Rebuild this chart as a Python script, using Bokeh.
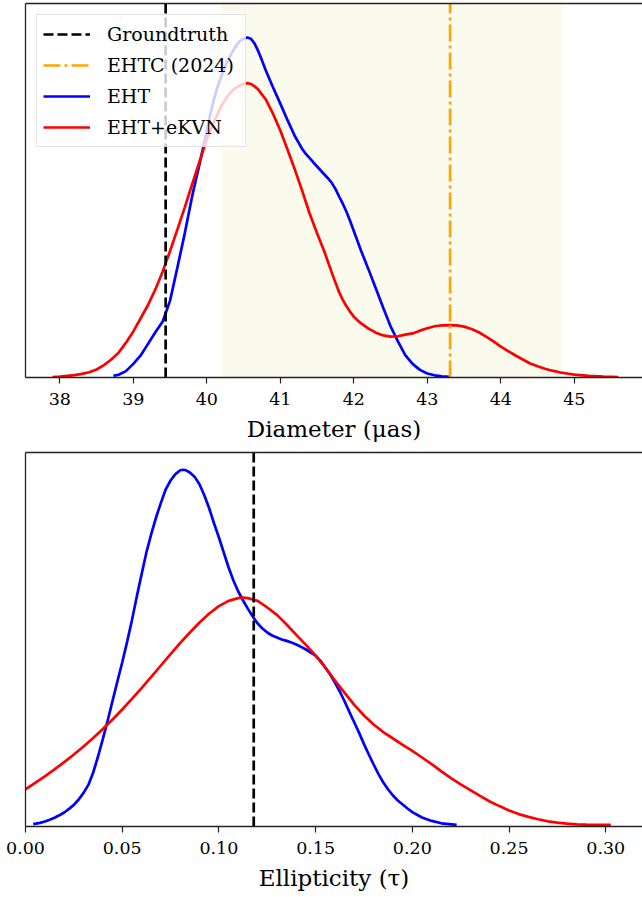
from bokeh.plotting import figure
from bokeh.models import (Range1d, FixedTicker, LinearAxis, BoxAnnotation, Legend,
                          LegendItem, PrintfTickFormatter)
from bokeh.layouts import column
from bokeh.embed import file_html
from bokeh.resources import INLINE

# ---------------- data ----------------
diam_eht_x = [38.73, 38.8, 38.9, 39.0, 39.1, 39.2, 39.3, 39.4, 39.5, 39.6, 39.7, 39.8, 39.85,
              39.9, 39.95, 40.0, 40.05, 40.1, 40.15, 40.2, 40.25, 40.3, 40.35, 40.4, 40.45,
              40.5, 40.55, 40.6, 40.65, 40.7, 40.75, 40.8, 40.9, 41.0, 41.1, 41.2, 41.3,
              41.35, 41.4, 41.45, 41.5, 41.55, 41.6, 41.65, 41.7, 41.75, 41.8, 41.85, 41.9,
              41.95, 42.0, 42.1, 42.2, 42.3, 42.4, 42.5, 42.6, 42.7, 42.8, 42.9, 43.0, 43.1,
              43.2, 43.31]
diam_eht_y = [0.004, 0.007, 0.016, 0.034, 0.055, 0.084, 0.113, 0.140, 0.192, 0.275, 0.360,
              0.452, 0.493, 0.532, 0.574, 0.617, 0.660, 0.697, 0.728, 0.754, 0.777, 0.797,
              0.814, 0.829, 0.840, 0.846, 0.849, 0.846, 0.834, 0.815, 0.792, 0.768, 0.725,
              0.684, 0.642, 0.602, 0.570, 0.558, 0.548, 0.537, 0.527, 0.517, 0.507, 0.497,
              0.486, 0.471, 0.452, 0.434, 0.414, 0.391, 0.366, 0.316, 0.270, 0.222, 0.174,
              0.128, 0.090, 0.056, 0.034, 0.019, 0.010, 0.0055, 0.003, 0.0015]

diam_kvn_x = [37.9, 38.0, 38.1, 38.2, 38.3, 38.4, 38.5, 38.6, 38.7, 38.8, 38.9, 39.0, 39.1,
              39.2, 39.3, 39.4, 39.5, 39.6, 39.7, 39.8, 39.9, 40.0, 40.1, 40.2, 40.3, 40.35,
              40.4, 40.45, 40.5, 40.55, 40.6, 40.65, 40.7, 40.8, 40.9, 41.0, 41.1, 41.2, 41.3,
              41.4, 41.5, 41.6, 41.7, 41.75, 41.8, 41.85, 41.9, 41.95, 42.0, 42.05, 42.1,
              42.2, 42.3, 42.4, 42.5, 42.6, 42.7, 42.8, 42.9, 43.0, 43.1, 43.2, 43.3, 43.4,
              43.5, 43.6, 43.7, 43.8, 43.9, 44.0, 44.1, 44.2, 44.3, 44.4, 44.5, 44.6, 44.7,
              44.8, 44.9, 45.0, 45.2, 45.4, 45.6]
diam_kvn_y = [0.001, 0.002, 0.004, 0.006, 0.009, 0.013, 0.020, 0.031, 0.045, 0.062, 0.087,
              0.115, 0.148, 0.181, 0.220, 0.265, 0.316, 0.370, 0.425, 0.482, 0.539, 0.594,
              0.640, 0.679, 0.707, 0.717, 0.724, 0.729, 0.733, 0.735, 0.733, 0.727, 0.719,
              0.695, 0.659, 0.617, 0.568, 0.518, 0.465, 0.409, 0.360, 0.314, 0.262, 0.237,
              0.213, 0.194, 0.178, 0.164, 0.152, 0.143, 0.135, 0.122, 0.112, 0.105, 0.102,
              0.103, 0.107, 0.110, 0.117, 0.123, 0.128, 0.130, 0.131, 0.130, 0.127, 0.121,
              0.113, 0.102, 0.090, 0.077, 0.066, 0.055, 0.045, 0.035, 0.028, 0.022, 0.017,
              0.013, 0.010, 0.007, 0.004, 0.002, 0.001]

ell_eht_x = [0.004, 0.0075, 0.010, 0.0125, 0.015, 0.0175, 0.020, 0.0225, 0.025, 0.0275,
             0.030, 0.0325, 0.035, 0.0375, 0.040, 0.0425, 0.045, 0.0475, 0.050, 0.0525,
             0.055, 0.0575, 0.060, 0.0625, 0.065, 0.0675, 0.070, 0.0725, 0.075, 0.0775,
             0.080, 0.0815, 0.083, 0.085, 0.0875, 0.090, 0.0925, 0.095, 0.0975, 0.100,
             0.1025, 0.105, 0.1075, 0.110, 0.1125, 0.115, 0.1175, 0.120, 0.1225, 0.125,
             0.1275, 0.130, 0.1325, 0.135, 0.1375, 0.140, 0.1425, 0.145, 0.1475, 0.150,
             0.1525, 0.155, 0.1575, 0.160, 0.1625, 0.165, 0.1675, 0.170, 0.1725, 0.175,
             0.1775, 0.180, 0.1825, 0.185, 0.1875, 0.190, 0.1925, 0.195, 0.1975, 0.200,
             0.205, 0.210, 0.215, 0.2229]
ell_eht_y = [0.006, 0.009, 0.0125, 0.017, 0.022, 0.028, 0.035, 0.044, 0.054, 0.0675, 0.084,
             0.104, 0.135, 0.175, 0.219, 0.265, 0.314, 0.3625, 0.410, 0.461, 0.515, 0.574,
             0.630, 0.685, 0.731, 0.7725, 0.809, 0.843, 0.865, 0.881, 0.8905, 0.892, 0.8905,
             0.885, 0.874, 0.855, 0.8275, 0.795, 0.7575, 0.7225, 0.685, 0.6475, 0.615,
             0.5875, 0.565, 0.544, 0.525, 0.5075, 0.495, 0.485, 0.4775, 0.4725, 0.4675,
             0.464, 0.460, 0.455, 0.449, 0.4425, 0.435, 0.427, 0.414, 0.3975, 0.380, 0.360,
             0.3375, 0.3125, 0.286, 0.260, 0.234, 0.206, 0.180, 0.155, 0.131, 0.110, 0.0925,
             0.0775, 0.065, 0.055, 0.045, 0.036, 0.0225, 0.014, 0.008, 0.004]

ell_kvn_x = [0.000, 0.005, 0.010, 0.015, 0.020, 0.025, 0.030, 0.035, 0.040, 0.045, 0.050,
             0.055, 0.060, 0.065, 0.070, 0.075, 0.080, 0.085, 0.090, 0.095, 0.100, 0.105,
             0.110, 0.1125, 0.115, 0.120, 0.125, 0.130, 0.135, 0.140, 0.145, 0.150, 0.155,
             0.160, 0.165, 0.170, 0.175, 0.180, 0.185, 0.190, 0.195, 0.200, 0.205, 0.210,
             0.215, 0.220, 0.225, 0.230, 0.235, 0.240, 0.245, 0.250, 0.255, 0.260, 0.265,
             0.270, 0.275, 0.280, 0.285, 0.290, 0.3026]
ell_kvn_y = [0.093, 0.109, 0.1255, 0.143, 0.161, 0.180, 0.200, 0.221, 0.244, 0.2675, 0.2925,
             0.319, 0.346, 0.374, 0.4025, 0.431, 0.459, 0.485, 0.510, 0.5325, 0.551, 0.564,
             0.571, 0.5725, 0.571, 0.564, 0.5475, 0.529, 0.505, 0.479, 0.454, 0.427, 0.3975,
             0.365, 0.334, 0.304, 0.2775, 0.255, 0.236, 0.220, 0.204, 0.189, 0.1725, 0.156,
             0.138, 0.121, 0.1055, 0.091, 0.0765, 0.0625, 0.051, 0.040, 0.031, 0.024, 0.018,
             0.013, 0.0095, 0.007, 0.0055, 0.0045, 0.004]

gt_diameter = 39.44
ehtc_diameter = 43.31
ehtc_band_lo, ehtc_band_hi = 40.20, 44.83
gt_ellipticity = 0.118

diam_ticks = [38, 39, 40, 41, 42, 43, 44, 45]
ell_ticks = [0.0, 0.05, 0.10, 0.15, 0.20, 0.25, 0.30]

legend_labels = ["Groundtruth", "EHTC (2024)", "EHT", "EHT+eKVN"]
diam_label = "Diameter (μas)"
ell_label = "Ellipticity (τ)"

# ---------------- styling ----------------
FONT = "DejaVu Serif"
C_EHT, C_KVN, C_EHTC, C_GT = "#0000ff", "#ff0000", "#ffa500", "#000000"
LW = 2.7
SPINE = "#222222"
DIAM_Y_TOP = 0.934
ELL_Y_TOP = 0.935


def make_fig(xr, ytop, ticks, label, border_top, border_bottom):
    p = figure(output_backend="svg", toolbar_location=None,
               frame_width=617, frame_height=374,
               x_range=xr, y_range=Range1d(0, ytop),
               min_border_left=25, min_border_right=0,
               min_border_top=border_top, min_border_bottom=border_bottom,
               x_axis_location=None, y_axis_location=None)
    p.outline_line_color = None
    p.grid.visible = False
    p.background_fill_color = "white"
    p.border_fill_color = "white"

    xa = LinearAxis(ticker=FixedTicker(ticks=ticks))
    xa.axis_label = label
    xa.axis_label_text_font = FONT
    xa.axis_label_text_font_size = "23px"
    xa.axis_label_text_font_style = "normal"
    xa.axis_label_text_color = "black"
    xa.axis_label_standoff = 8
    xa.major_label_text_font = FONT
    xa.major_label_text_font_size = "17.5px"
    xa.major_label_text_font_style = "normal"
    xa.major_label_text_color = "black"
    xa.major_label_standoff = 9
    xa.major_tick_out = 6
    xa.major_tick_in = 0
    xa.major_tick_line_color = SPINE
    xa.major_tick_line_width = 1.2
    xa.minor_tick_line_color = None
    xa.axis_line_color = SPINE
    xa.axis_line_width = 1.3
    p.add_layout(xa, "below")

    for side in ("left", "above"):
        a = LinearAxis(ticker=FixedTicker(ticks=[]))
        a.major_tick_out = 0
        a.major_tick_in = 0
        a.minor_tick_line_color = None
        a.major_label_standoff = 0
        a.major_label_text_font_size = "0px"
        a.axis_line_color = SPINE
        a.axis_line_width = 1.3
        p.add_layout(a, side)
    return p, xa


p1, xa1 = make_fig(Range1d(37.533, 45.928), DIAM_Y_TOP, diam_ticks, diam_label, 3, 73)

band = BoxAnnotation(left=ehtc_band_lo, right=ehtc_band_hi, fill_color="#f5f5dc",
                     fill_alpha=0.5, line_color=None, level="underlay")
p1.add_layout(band)

r_eht = p1.line(diam_eht_x, diam_eht_y, line_color=C_EHT, line_width=LW)
r_kvn = p1.line(diam_kvn_x, diam_kvn_y, line_color=C_KVN, line_width=LW)
r_gt = p1.line([gt_diameter, gt_diameter], [0, DIAM_Y_TOP], line_color=C_GT,
               line_width=LW, line_dash="10 4")
r_ehtc = p1.line([ehtc_diameter, ehtc_diameter], [0, DIAM_Y_TOP], line_color=C_EHTC,
                 line_width=LW, line_dash="17 4 3 4")

legend = Legend(items=[LegendItem(label=legend_labels[0], renderers=[r_gt]),
                       LegendItem(label=legend_labels[1], renderers=[r_ehtc]),
                       LegendItem(label=legend_labels[2], renderers=[r_eht]),
                       LegendItem(label=legend_labels[3], renderers=[r_kvn])],
                location="top_left")
legend.margin = 11
legend.padding = 6
legend.spacing = 5
legend.glyph_width = 47
legend.glyph_height = 26
legend.label_height = 26
legend.label_width = 132
legend.label_standoff = 17
legend.label_text_font = FONT
legend.label_text_font_size = "19px"
legend.label_text_font_style = "normal"
legend.label_text_color = "black"
legend.border_line_color = "#cccccc"
legend.border_line_width = 1
legend.background_fill_color = "white"
legend.background_fill_alpha = 0.8
p1.add_layout(legend)

p2, xa2 = make_fig(Range1d(0.0, 0.319), ELL_Y_TOP, ell_ticks, ell_label, 2, 71)
xa2.formatter = PrintfTickFormatter(format="%.2f")

p2.line(ell_eht_x, ell_eht_y, line_color=C_EHT, line_width=LW)
p2.line(ell_kvn_x, ell_kvn_y, line_color=C_KVN, line_width=LW)
p2.line([gt_ellipticity, gt_ellipticity], [0, ELL_Y_TOP], line_color=C_GT,
        line_width=LW, line_dash="10 4")

layout = column(p1, p2, spacing=0)
open("out.html", "w").write(file_html(layout, INLINE))
